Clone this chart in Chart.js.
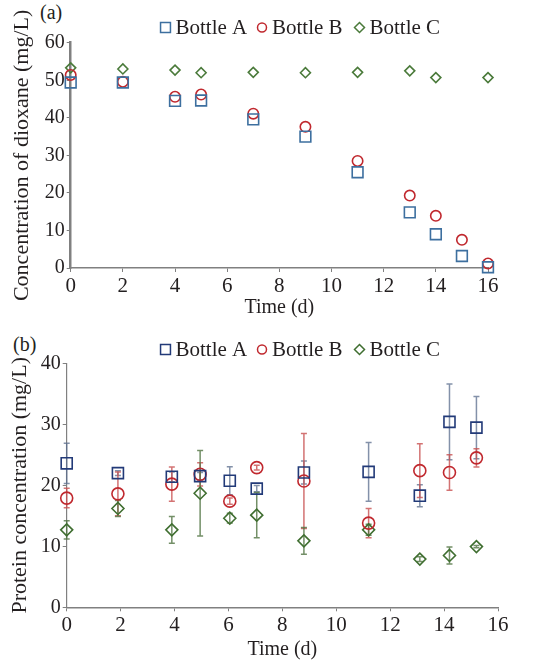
<!DOCTYPE html>
<html>
<head>
<meta charset="utf-8">
<script src="https://cdn.jsdelivr.net/npm/chart.js@4/dist/chart.umd.min.js"></script>
<style>
  body { margin: 0; background: #fff; width: 545px; height: 664px; position: relative; overflow: hidden; }
  canvas { position: absolute; left: 0; }
  #chartA { top: 0; }
  #chartB { top: 330px; }
  .tag { position: absolute; font: 20px 'Liberation Serif', serif; color: #231f20; }
</style>
</head>
<body>
<div class="tag" style="left:40px; top:1px;">(a)</div>
<div class="tag" style="left:13px; top:333px;">(b)</div>
<canvas id="chartA" width="545" height="330"></canvas>
<canvas id="chartB" width="545" height="334"></canvas>
<script>
// (a) dioxane over time
const dioxDaysAB = [0, 2, 4, 5, 7, 9, 11, 13, 14, 15, 16];
const dioxA = [49.4, 49.4, 44.5, 44.6, 39.6, 35.0, 25.5, 14.8, 9.0, 3.2, 0.2];
const dioxB = [51.4, 49.6, 45.6, 46.2, 41.1, 37.6, 28.5, 19.3, 13.9, 7.5, 1.2];
const dioxDaysC = [0, 2, 4, 5, 7, 9, 11, 13, 14, 16];
const dioxC = [53.3, 53.0, 52.7, 52.0, 52.1, 52.0, 52.1, 52.5, 50.7, 50.7];

// (b) protein over time, with +/- error
const protDays = [0, 1.9, 3.9, 4.95, 6.05, 7.05, 8.8, 11.2, 13.1, 14.2, 15.2];
const protA = [23.6, 22.0, 21.4, 21.5, 20.75, 19.45, 22.1, 22.2, 18.3, 30.4, 29.45];
const errA = [3.3, 0.4, 0.8, 0.6, 2.3, 0.5, 1.9, 4.8, 1.8, 6.2, 5.1];
const protB = [17.9, 18.6, 20.2, 21.8, 17.4, 22.9, 20.7, 13.8, 22.4, 22.1, 24.5];
const errB = [1.6, 3.6, 2.8, 1.9, 0.5, 0.4, 7.8, 2.4, 4.4, 2.9, 1.5];
const protC = [12.7, 16.2, 12.7, 18.7, 14.6, 15.1, 10.9, 12.7, 7.9, 8.5, 9.95];
const errC = [1.5, 1.3, 2.2, 7.0, 0.8, 3.7, 2.2, 0.9, 0.4, 1.4, 0.2];

const seriesNames = ['Bottle A', 'Bottle B', 'Bottle C'];
const xTicks = { min: 0, max: 16, step: 2 };

const FONT = "'Liberation Serif', serif";
const TXT = '#231f20';
const AXIS = '#808080';

const pts = (xs, ys) => xs.map((x, i) => ({ x: x, y: ys[i] }));

// vertical error bars with caps
const errorBars = {
  id: 'errorBars',
  beforeDatasetsDraw(chart) {
    const { ctx, scales: { x, y } } = chart;
    chart.data.datasets.forEach(ds => {
      if (!ds.errors) return;
      ctx.save();
      ctx.strokeStyle = ds.errorColor;
      ctx.lineWidth = 1.5;
      ds.data.forEach((p, i) => {
        const e = ds.errors[i];
        if (!e) return;
        const px = x.getPixelForValue(p.x);
        const top = y.getPixelForValue(p.y + e);
        const bot = y.getPixelForValue(p.y - e);
        ctx.beginPath();
        ctx.moveTo(px, top); ctx.lineTo(px, bot);
        ctx.moveTo(px - 3, top); ctx.lineTo(px + 3, top);
        ctx.moveTo(px - 3, bot); ctx.lineTo(px + 3, bot);
        ctx.stroke();
      });
      ctx.restore();
    });
  }
};

// legend row in a fixed spot above the plot
const rowLegend = {
  id: 'rowLegend',
  afterDraw(chart, args, opts) {
    const ctx = chart.ctx;
    ctx.save();
    ctx.font = '21px ' + FONT;
    ctx.textBaseline = 'middle';
    chart.data.datasets.forEach((ds, i) => {
      const mx = opts.x[i];
      ctx.strokeStyle = ds.borderColor;
      ctx.fillStyle = 'rgba(0,0,0,0)';
      ctx.lineWidth = 1.5;
      Chart.helpers.drawPoint(ctx, { pointStyle: ds.pointStyle, radius: opts.r[i], borderWidth: 1.5 }, mx, opts.y);
      ctx.fillStyle = TXT;
      ctx.fillText(ds.label, mx + 10, opts.y + 1);
    });
    ctx.restore();
  }
};

function makeOptions(o) {
  return {
    responsive: false,
    animation: false,
    layout: { padding: { left: 0, right: o.padRight, top: o.padTop, bottom: 0 } },
    plugins: {
      legend: { display: false },
      tooltip: { enabled: false },
      rowLegend: { x: [165.5, 262, 359.5], r: [7, 4.5, 5], y: o.legendY }
    },
    scales: {
      x: {
        type: 'linear', min: xTicks.min, max: xTicks.max,
        afterFit: s => { s.height = o.xHeight; },
        ticks: { stepSize: xTicks.step, color: TXT, font: { family: FONT, size: 21 }, padding: 2 },
        grid: { drawOnChartArea: false, tickLength: 4, color: AXIS },
        border: { color: AXIS, width: 1.5 },
        title: { display: true, text: 'Time (d)', color: TXT, font: { family: FONT, size: 20 }, padding: { top: 0, bottom: o.xTitlePad } }
      },
      y: {
        min: 0, max: o.yMax,
        afterFit: s => { s.width = o.yWidth; },
        ticks: { stepSize: 10, color: TXT, font: { family: FONT, size: 20 }, padding: 2 },
        grid: { drawOnChartArea: false, tickLength: 4, color: AXIS },
        border: { color: AXIS, width: o.yBorder },
        title: { display: true, text: o.yTitle, color: TXT, font: { family: FONT, size: 22 }, padding: { top: o.yTitlePad, bottom: 0 } }
      }
    }
  };
}

function marker(label, data, style, color, radius, extra) {
  return Object.assign({
    label: label,
    data: data,
    pointStyle: style,
    pointRadius: radius,
    pointBorderColor: color,
    pointBackgroundColor: 'rgba(0,0,0,0)',
    pointBorderWidth: 1.6,
    borderColor: color,
    backgroundColor: 'rgba(0,0,0,0)',
    borderWidth: 1.6,
    showLine: false,
    clip: false
  }, extra || {});
}

new Chart(document.getElementById('chartA'), {
  type: 'scatter',
  data: {
    datasets: [
      marker(seriesNames[0], pts(dioxDaysAB, dioxA), 'rect', '#3d6f9f', 7.6),
      marker(seriesNames[1], pts(dioxDaysAB, dioxB), 'circle', '#c0282e', 5.2),
      marker(seriesNames[2], pts(dioxDaysC, dioxC), 'rectRot', '#4a7a3a', 5)
    ]
  },
  options: makeOptions({
    padRight: 57, padTop: 42.7, legendY: 27.5, xHeight: 62, xTitlePad: 10,
    yMax: 60, yWidth: 70.7, yBorder: 2.5, yTitlePad: 9,
    yTitle: 'Concentration of dioxane (mg/L)'
  }),
  plugins: [rowLegend]
});

new Chart(document.getElementById('chartB'), {
  type: 'scatter',
  data: {
    datasets: [
      marker(seriesNames[0], pts(protDays, protA), 'rect', '#223a78', 7.8, { errors: errA, errorColor: 'rgba(90,108,140,0.75)' }),
      marker(seriesNames[1], pts(protDays, protB), 'circle', '#c0282e', 6, { errors: errB, errorColor: 'rgba(200,80,80,0.8)' }),
      marker(seriesNames[2], pts(protDays, protC), 'rectRot', '#3f6e30', 6, { errors: errC, errorColor: 'rgba(80,115,65,0.8)' })
    ]
  },
  options: makeOptions({
    padRight: 47, padTop: 33.3, legendY: 19.5, xHeight: 56.7, xTitlePad: 2,
    yMax: 40, yWidth: 66.7, yBorder: 1.2, yTitlePad: 7,
    yTitle: 'Protein concentration (mg/L)'
  }),
  plugins: [errorBars, rowLegend]
});
</script>
</body>
</html>
